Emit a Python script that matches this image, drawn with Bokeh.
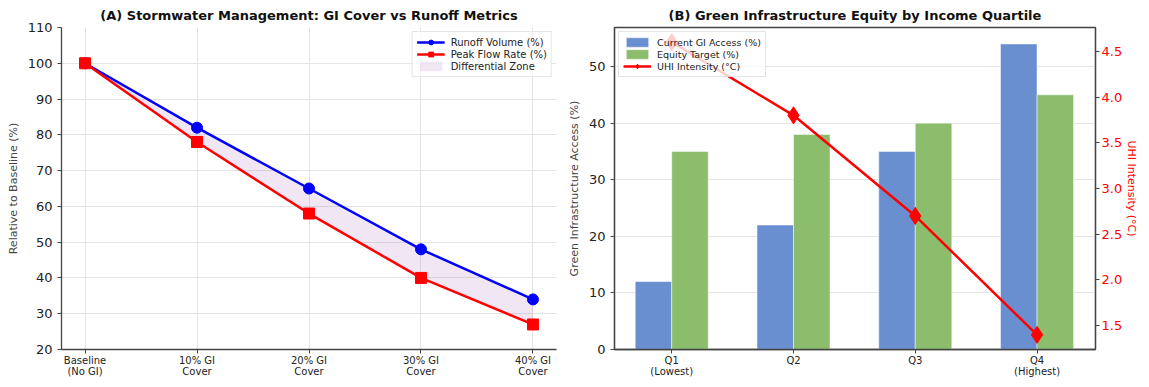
from bokeh.plotting import figure
from bokeh.layouts import row
from bokeh.models import FixedTicker, Range1d, LinearAxis, Legend, LegendItem, NumeralTickFormatter
from bokeh.embed import file_html
from bokeh.resources import INLINE

# ---- data ----
scenarios = ["Baseline\n(No GI)", "10% GI\nCover", "20% GI\nCover", "30% GI\nCover", "40% GI\nCover"]
runoff = [100, 82, 65, 48, 34]
peak = [100, 78, 58, 40, 27]

quartiles = ["Q1\n(Lowest)", "Q2", "Q3", "Q4\n(Highest)"]
current_access = [12, 22, 35, 54]
equity_target = [35, 38, 40, 45]
uhi = [4.6, 3.8, 2.7, 1.4]

FONT = "DejaVu Sans"

def style(p):
    p.title.text_font = FONT
    p.title.text_font_size = "13px"
    p.title.text_font_style = "bold"
    p.title.align = "center"
    p.title.text_color = "#111111"
    for ax in p.axis:
        ax.major_label_text_font = FONT
        ax.axis_label_text_font = FONT
        ax.axis_label_text_font_style = "normal"
        ax.axis_label_text_font_size = "11px"
        ax.major_tick_out = 4
        ax.major_tick_in = 0
        ax.minor_tick_out = 0
        ax.minor_tick_in = 0
        ax.axis_line_color = "#444444"
        ax.axis_line_width = 1.3
        ax.major_tick_line_color = "#444444"
        ax.major_label_text_color = "#222222"
    p.xaxis.major_label_text_font_size = "10px"
    p.xaxis.major_label_standoff = 1
    p.xaxis.major_label_text_line_height = 1.0
    p.yaxis.major_label_text_font_size = "13px"
    p.grid.grid_line_color = "#e4e4e4"

# ---- Panel A ----
xa = list(range(len(scenarios)))
p1 = figure(width=558, height=379, output_backend="svg", toolbar_location=None,
            x_range=Range1d(-0.21, 4.21), y_range=Range1d(20, 110),
            title="(A) Stormwater Management: GI Cover vs Runoff Metrics",
            min_border_left=61, min_border_right=2, min_border_top=9, min_border_bottom=0)
p1.outline_line_color = None
area = p1.varea(x=xa, y1=peak, y2=runoff, fill_color="#9b59b6", fill_alpha=0.15)
l1 = p1.line(xa, runoff, line_color="blue", line_width=2.5)
m1 = p1.scatter(xa, runoff, marker="circle", size=11, color="blue")
l2 = p1.line(xa, peak, line_color="red", line_width=2.5)
m2 = p1.scatter(xa, peak, marker="square", size=11, color="red")
p1.xaxis.ticker = FixedTicker(ticks=xa)
p1.xaxis.major_label_overrides = {i: s for i, s in enumerate(scenarios)}
p1.yaxis.ticker = FixedTicker(ticks=list(range(20, 111, 10)))
p1.yaxis.axis_label = "Relative to Baseline (%)"
style(p1)
leg1 = Legend(items=[LegendItem(label="Runoff Volume (%)", renderers=[l1, m1]),
                     LegendItem(label="Peak Flow Rate (%)", renderers=[l2, m2]),
                     LegendItem(label="Differential Zone", renderers=[area])],
              location="top_right")
p1.add_layout(leg1)

# ---- Panel B ----
xb = list(range(len(quartiles)))
w = 0.3
p2 = figure(width=583, height=379, output_backend="svg", toolbar_location=None,
            x_range=Range1d(-0.47, 3.48), y_range=Range1d(0, 56.9),
            title="(B) Green Infrastructure Equity by Income Quartile",
            min_border_left=56, min_border_right=30, min_border_top=9, min_border_bottom=0)
p2.extra_y_ranges = {"uhi": Range1d(1.24, 4.76)}
b1 = p2.vbar(x=[x - w / 2 for x in xb], top=current_access, width=w, fill_color="#6a8fd0", line_color="white", line_width=0.5)
b2 = p2.vbar(x=[x + w / 2 for x in xb], top=equity_target, width=w, fill_color="#8bbd6c", line_color="white", line_width=0.5)
l3 = p2.line(xb, uhi, line_color="red", line_width=2.5, y_range_name="uhi")
m3 = p2.scatter(xb, uhi, marker="diamond", size=17, color="red", y_range_name="uhi")
p2.xaxis.ticker = FixedTicker(ticks=xb)
p2.xaxis.major_label_overrides = {i: s for i, s in enumerate(quartiles)}
p2.yaxis.ticker = FixedTicker(ticks=list(range(0, 51, 10)))
p2.yaxis.axis_label = "Green Infrastructure Access (%)"
rax = LinearAxis(y_range_name="uhi", ticker=FixedTicker(ticks=[1.5, 2.0, 2.5, 3.0, 3.5, 4.0, 4.5]),
                 formatter=NumeralTickFormatter(format="0.0"),
                 axis_label="UHI Intensity (°C)")
p2.add_layout(rax, "right")
style(p2)
p2.xgrid.grid_line_color = None
p2.outline_line_color = "#444444"
p2.outline_line_width = 1.3
rax.major_label_text_color = "red"
rax.axis_label_text_color = "red"
rax.axis_label_standoff = 0
rax.major_label_standoff = 2
leg2 = Legend(items=[LegendItem(label="Current GI Access (%)", renderers=[b1]),
                     LegendItem(label="Equity Target (%)", renderers=[b2]),
                     LegendItem(label="UHI Intensity (°C)", renderers=[l3, m3])],
              location="top_left")
p2.add_layout(leg2)

for leg, fs in ((leg1, "10px"), (leg2, "9.5px")):
    leg.label_text_font = FONT
    leg.label_text_font_size = fs
    leg.label_text_color = "#222222"
    leg.border_line_color = "#cccccc"
    leg.background_fill_alpha = 0.8
    leg.padding = 4
    leg.spacing = 0
    leg.margin = 4
    leg.label_height = 12
    leg.glyph_height = 12
    leg.glyph_width = 28
    leg.label_standoff = 6

layout = row(p1, p2)
open("out.html", "w").write(file_html(layout, INLINE))
